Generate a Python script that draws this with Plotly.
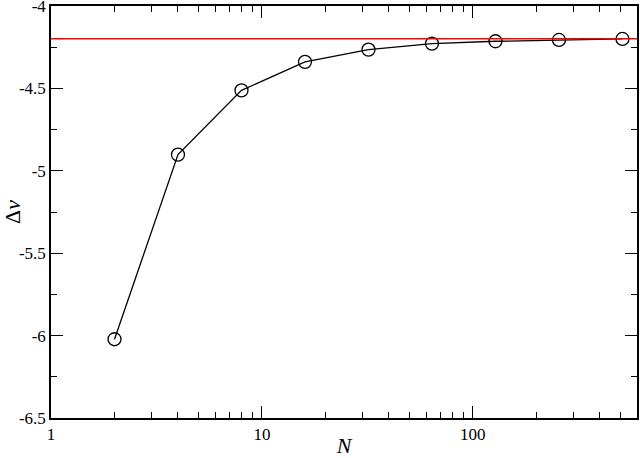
import numpy as np
import plotly.graph_objects as go

# data
N_VALUES = [2, 4, 8, 16, 32, 64, 128, 256, 512]
DELTA_V = [-6.022, -4.902, -4.512, -4.339, -4.265, -4.228, -4.214, -4.206, -4.200]
LIMIT_VALUE = -4.198

X_TICKS = [1, 10, 100]
Y_TICKS = [-6.5, -6, -5.5, -5, -4.5, -4]
Y_TICK_LABELS = ["-6.5", "-6", "-5.5", "-5", "-4.5", "-4"]

FONT = "'Liberation Serif', 'Times New Roman', 'DejaVu Serif', serif"

fig = go.Figure()

# reference (limit) line
fig.add_hline(y=LIMIT_VALUE, line=dict(color="#ff0000", width=1.5))

fig.add_trace(go.Scatter(
    x=N_VALUES,
    y=DELTA_V,
    mode="lines+markers",
    line=dict(color="black", width=1.3),
    marker=dict(symbol="circle-open", size=13, color="black",
                line=dict(width=1.3, color="black")),
    cliponaxis=False,
    showlegend=False,
))

fig.update_layout(
    width=640, height=458,
    margin=dict(l=51, r=3, t=6, b=40, autoexpand=False),
    plot_bgcolor="white",
    paper_bgcolor="white",
    font=dict(family=FONT, size=17, color="black"),
    xaxis=dict(
        type="log",
        range=[0, np.log10(600)],
        tickvals=X_TICKS,
        ticktext=[str(v) for v in X_TICKS],
        tickfont=dict(family=FONT, size=17),
        ticks="inside", ticklen=12, tickwidth=1.3, tickcolor="black",
        minor=dict(ticks="inside", ticklen=6, tickwidth=1.3, tickcolor="black", dtick="D1"),
        showline=True, linecolor="black", linewidth=1.5, mirror="ticks",
        showgrid=False, zeroline=False, automargin=False,
        ticklabeloverflow="allow",
        title=dict(text="<i>N</i>", font=dict(size=22), standoff=8),
    ),
    yaxis=dict(
        range=[-6.5, -4],
        tickvals=Y_TICKS,
        ticktext=Y_TICK_LABELS,
        tickfont=dict(family=FONT, size=17),
        ticks="inside", ticklen=12, tickwidth=1.3, tickcolor="black",
        minor=dict(ticks="inside", ticklen=6, tickwidth=1.3, tickcolor="black", dtick=0.25),
        showline=True, linecolor="black", linewidth=1.5, mirror="ticks",
        showgrid=False, zeroline=False, automargin=False,
        ticklabeloverflow="allow",
        title=dict(text="Δ<i>v</i>", font=dict(size=22), standoff=2),
    ),
)

# page has a default body margin; drop it so the figure sits at the corner
fig.write_html("out.html", config={"displayModeBar": False},
               post_script="document.body.style.margin='0';")
